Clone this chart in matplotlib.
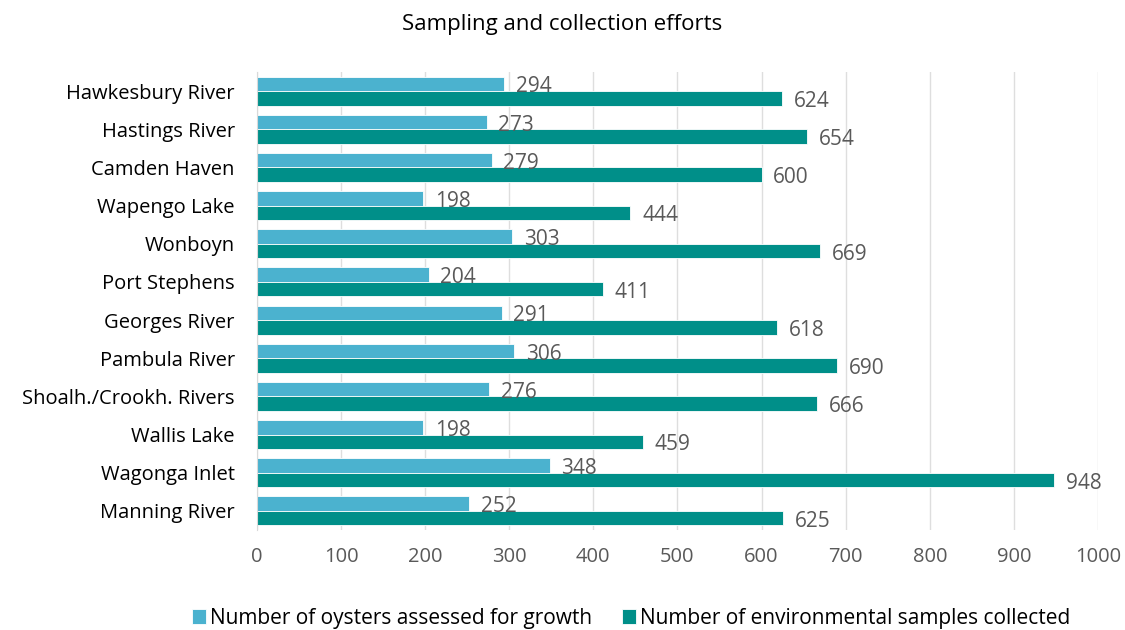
import numpy as np
import matplotlib
matplotlib.use("Agg")
import matplotlib.pyplot as plt

sites = ["Hawkesbury River", "Hastings River", "Camden Haven", "Wapengo Lake",
         "Wonboyn", "Port Stephens", "Georges River", "Pambula River",
         "Shoalh./Crookh. Rivers", "Wallis Lake", "Wagonga Inlet", "Manning River"]
oysters = [294, 273, 279, 198, 303, 204, 291, 306, 276, 198, 348, 252]
env_samples = [624, 654, 600, 444, 669, 411, 618, 690, 666, 459, 948, 625]

light = "#4bb2cf"
dark = "#008f89"
grey = "#595959"

plt.rcParams['font.family'] = ['Open Sans', 'DejaVu Sans']

fig = plt.figure(figsize=(11.25, 6.3), dpi=100)
ax = fig.add_axes([0.2284, 0.1587, 0.7476, 0.727])

y = np.arange(len(sites))
h = 0.38
b1 = ax.barh(y - h / 2, oysters, height=h, color=light, edgecolor="white", linewidth=0.6,
             label="Number of oysters assessed for growth", zorder=3)
b2 = ax.barh(y + h / 2, env_samples, height=h, color=dark, edgecolor="white", linewidth=0.6,
             label="Number of environmental samples collected", zorder=3)

for bars, vals in ((b1, oysters), (b2, env_samples)):
    for bar, v in zip(bars, vals):
        ax.text(v + 14, bar.get_y() + bar.get_height() / 2 + 0.08, str(v),
                va="center", ha="left", fontsize=15, color=grey, zorder=4)

ax.set_ylim(len(sites) - 0.5, -0.5)
ax.set_xlim(0, 1000)
ax.set_xticks(np.arange(0, 1001, 100))
ax.set_yticks(y)
ax.set_yticklabels(sites, fontsize=14.5, color="black")
ax.tick_params(axis="x", labelsize=14.5, colors=grey, length=0, pad=12)
ax.tick_params(axis="y", length=0, pad=16)
ax.grid(axis="x", color="#dedede", linewidth=1, zorder=0)
for s in ("top", "right", "bottom"):
    ax.spines[s].set_visible(False)
ax.spines["left"].set_color("#d9d9d9")
ax.spines["left"].set_zorder(5)

fig.suptitle("Sampling and collection efforts", y=0.978, fontsize=16)
fig.legend(handles=[b1, b2], loc="center", bbox_to_anchor=(0.561, 0.019), ncol=2,
           frameon=False, fontsize=15, handlelength=0.7, handleheight=0.7,
           handletextpad=0.2, columnspacing=1.4)

fig.savefig("out.png", dpi=100)
